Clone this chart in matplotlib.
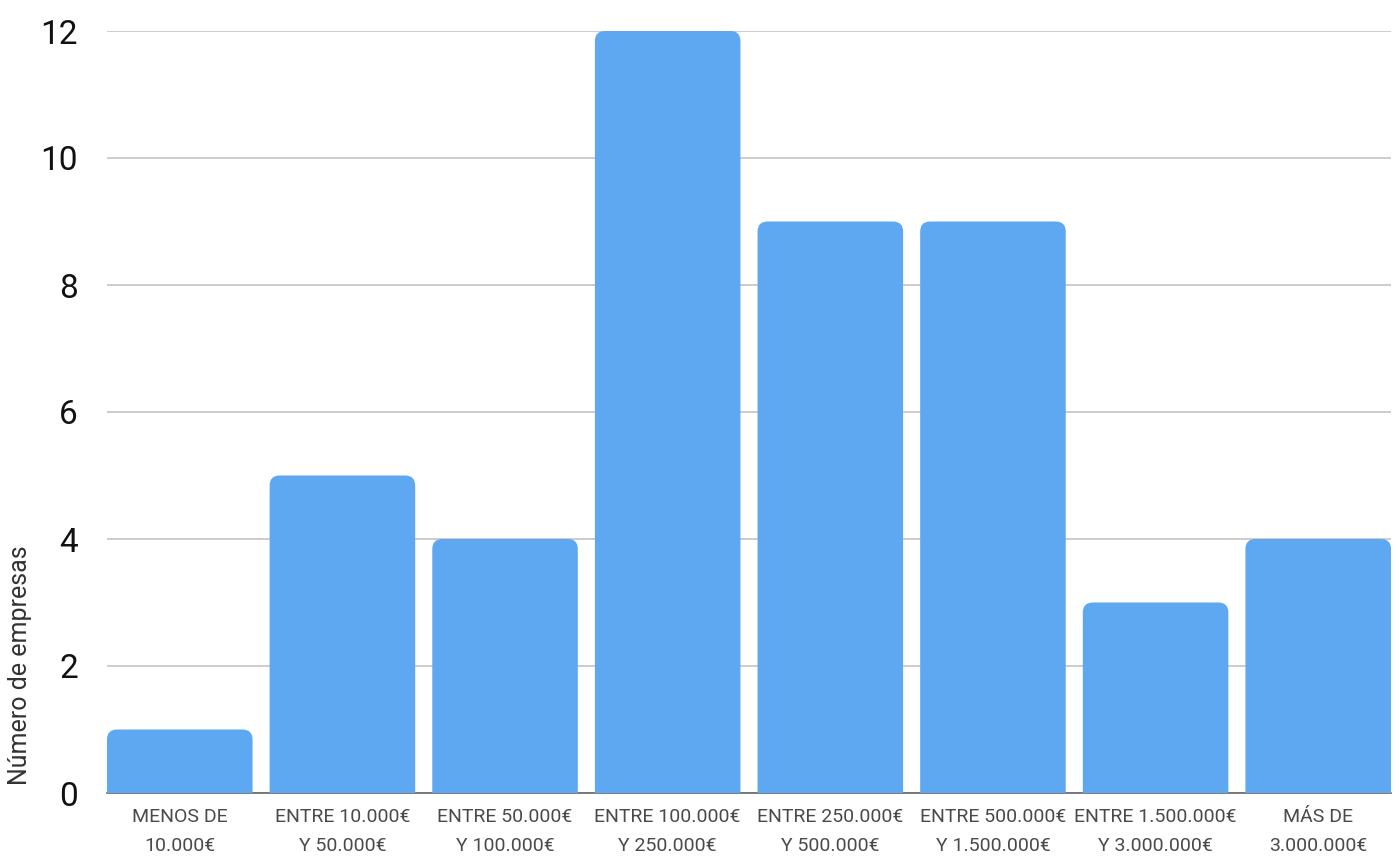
import matplotlib
matplotlib.use("Agg")
import matplotlib.pyplot as plt
from matplotlib.patches import FancyBboxPatch

categories = ["MENOS DE\n10.000€", "ENTRE 10.000€\nY 50.000€", "ENTRE 50.000€\nY 100.000€",
              "ENTRE 100.000€\nY 250.000€", "ENTRE 250.000€\nY 500.000€", "ENTRE 500.000€\nY 1.500.000€",
              "ENTRE 1.500.000€\nY 3.000.000€", "MÁS DE\n3.000.000€"]
values = [1, 5, 4, 12, 9, 9, 3, 4]
yticks = [0, 2, 4, 6, 8, 10, 12]

plt.rcParams['font.family'] = ['Roboto', 'DejaVu Sans']

W, H = 1399, 859
fig = plt.figure(figsize=(W / 100, H / 100), dpi=100)
left, right, top, bottom = 107, 1391, 31, 793
ax = fig.add_axes([left / W, (H - bottom) / H, (right - left) / W, (bottom - top) / H])

x = list(range(len(categories)))
width = 0.895
bars = ax.bar(x, values, width=width, color="#5EA8F2")
ax.set_xlim(-width / 2, len(categories) - 1 + width / 2)
ax.set_ylim(0, 12)

# rounded top corners
xpx = (right - left) / (len(categories) - 1 + width)
ypx = (bottom - top) / 12
r_px = 10
aspect = (1 / ypx) / (1 / xpx)
for b in bars:
    b.set_visible(False)
    x0, w, h = b.get_x(), b.get_width(), b.get_height()
    ext = 1.0
    p = FancyBboxPatch((x0, -ext), w, h + ext,
                       boxstyle=f"round,pad=0,rounding_size={r_px / xpx}",
                       mutation_aspect=aspect, facecolor="#5EA8F2", edgecolor="none",
                       zorder=3)
    ax.add_patch(p)

ax.set_yticks(yticks)
ax.set_yticklabels([str(t) for t in yticks], fontsize=24, color="#111111")
ax.set_xticks(x)
ax.set_xticklabels(categories, fontsize=14, color="#4a4a4a", linespacing=1.75)
ax.tick_params(axis='y', length=0, pad=21)
ax.tick_params(axis='x', length=0, pad=11)
ax.grid(axis='y', color="#c4c4c4", linewidth=1.2, zorder=0)
ax.set_axisbelow(True)
for s in ["top", "right", "left"]:
    ax.spines[s].set_visible(False)
ax.spines["bottom"].set_color("#666666")
ax.spines["bottom"].set_linewidth(1.2)
ax.spines["bottom"].set_zorder(2)
ax.set_ylabel("Número de empresas", fontsize=18, color="#333333")
ax.yaxis.set_label_coords(-75 / (right - left), (bottom - 665) / (bottom - top))

fig.savefig("out.png", dpi=100)
